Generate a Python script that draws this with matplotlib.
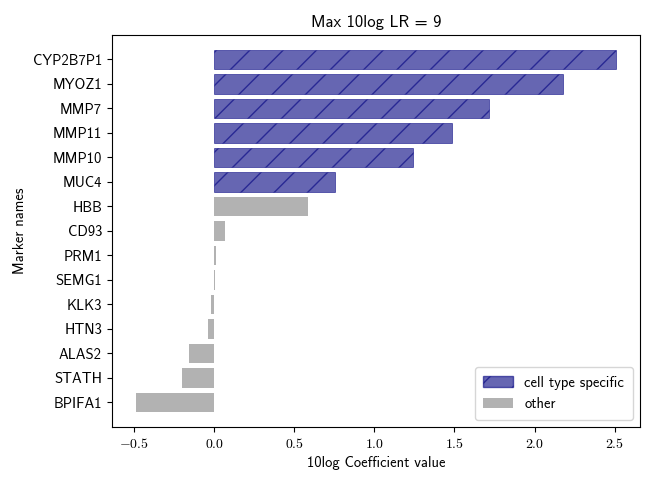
import matplotlib
matplotlib.use("Agg")
import matplotlib.pyplot as plt
from matplotlib.ticker import FuncFormatter
from matplotlib.patches import Patch

plt.rcParams['font.family'] = ['cmss10', 'DejaVu Sans']
plt.rcParams['mathtext.fontset'] = 'cm'
plt.rcParams['axes.unicode_minus'] = True
plt.rcParams['hatch.color'] = 'navy'

markers = ["CYP2B7P1", "MYOZ1", "MMP7", "MMP11", "MMP10", "MUC4", "HBB", "CD93",
           "PRM1", "SEMG1", "KLK3", "HTN3", "ALAS2", "STATH", "BPIFA1"]
values = [2.51, 2.175, 1.716, 1.486, 1.24, 0.751, 0.584, 0.070,
          0.013, 0.004, -0.02, -0.04, -0.16, -0.20, -0.49]
specific = [True, True, True, True, True, True, False, False,
            False, False, False, False, False, False, False]

fig = plt.figure(figsize=(6.5, 4.79), dpi=100)
ax = fig.add_axes([0.172, 0.1086, 0.813, 0.8184])

n = len(markers)
pos = [n - 1 - i for i in range(n)]
for p, v, s in zip(pos, values, specific):
    if s:
        ax.barh(p, v, height=0.8, color='navy', alpha=0.6, hatch='/', edgecolor='navy', linewidth=0.6)
    else:
        ax.barh(p, v, height=0.8, color='grey', alpha=0.6, linewidth=0)

ax.set_yticks(pos)
ax.set_yticklabels(markers, fontsize=10.5)
ax.set_ylim(-1, n)
ax.xaxis.set_major_formatter(FuncFormatter(lambda x, p: f"${x:.1f}$"))
ax.tick_params(axis='x', labelsize=10)
ax.set_xlabel("10log Coefficient value", fontsize=10.5)
ax.set_ylabel("Marker names", fontsize=10.5)
ax.set_title("Max 10log LR = 9", fontsize=12)

handles = [Patch(facecolor='navy', alpha=0.6, hatch='/', edgecolor='navy', label='cell type specific'),
           Patch(facecolor='grey', alpha=0.6, label='other')]
ax.legend(handles=handles, loc='lower right', fontsize=10.5, borderpad=0.6)

fig.savefig("out.png", dpi=100)
